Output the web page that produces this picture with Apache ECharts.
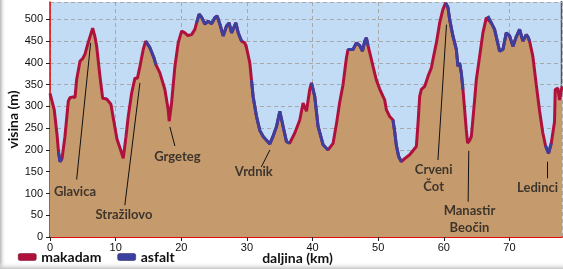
<!DOCTYPE html>
<html><head><meta charset="utf-8">
<script src="https://cdn.jsdelivr.net/npm/echarts@6/dist/echarts.min.js"></script>
<style>html,body{margin:0;padding:0;background:#fff}#c{width:563px;height:269px}</style>
</head><body><div id="c"></div>
<script>
// distance along the route (km)
const distanceKm = [
  0,0.15,0.65,1.07,1.3,1.52,1.83,2.28,2.79,3.04,
  3.5,3.81,4.06,4.57,4.98,5.33,5.78,6.5,6.85,7.11,
  7.61,8.02,8.63,8.83,9.28,9.74,10.2,10.65,11.16,11.57,
  11.92,12.44,12.94,13.32,13.7,14.2,14.57,15.22,15.83,16.13,
  16.74,17.5,18.01,18.16,18.52,19.03,19.53,20.05,20.55,21.0,
  21.57,22.07,22.33,22.72,23.09,23.59,24.09,24.61,25.11,25.46,
  25.88,26.38,26.89,27.29,27.66,27.9,28.31,28.66,29.18,29.68,
  29.94,30.44,30.7,30.94,31.46,31.96,32.47,32.88,33.49,33.94,
  34.51,35.01,35.51,36.03,36.53,37.29,38.05,38.55,39.07,39.57,
  39.83,40.33,40.84,41.6,42.36,43.12,43.64,44.14,44.64,45.16,
  45.4,46.16,46.68,47.18,47.6,47.95,48.2,48.45,48.96,49.21,
  49.73,50.23,50.73,50.99,51.25,51.75,52.25,52.51,52.77,53.12,
  53.53,54.03,54.79,55.81,56.06,56.32,56.58,57.08,57.58,58.1,
  58.34,58.86,59.36,59.86,60.27,60.62,60.88,61.38,61.9,62.15,
  62.4,62.66,62.91,63.17,63.42,63.62,63.93,64.19,64.69,64.95,
  65.45,65.95,66.47,66.71,67.23,67.73,68.49,69.0,69.51,70.02,
  70.52,71.03,71.54,72.04,72.56,72.8,73.06,73.56,74.08,74.58,
  75.08,75.49,75.95,76.36,76.86,76.97,77.37,77.63,78.0
];
// elevation (m)
const elevationM = [
  330,330,292,235,195,173,180,231,312,320,
  322,320,362,404,410,420,445,480,460,438,
  369,319,317,318,305,265,225,205,181,230,
  277,331,365,365,392,431,450,435,412,396,
  377,339,292,266,308,392,446,473,469,463,
  465,477,492,512,505,489,496,490,504,508,
  489,462,485,492,469,473,492,470,450,446,
  435,400,360,323,277,245,231,224,214,230,
  254,289,254,219,216,239,269,308,289,339,
  354,323,254,212,200,215,260,310,350,412,
  431,431,446,440,427,450,458,440,408,392,
  360,340,323,315,292,277,269,242,210,185,
  173,180,189,208,260,323,339,346,369,389,
  408,446,492,523,538,528,500,462,431,392,
  400,377,339,292,246,216,222,231,315,362,
  415,469,504,508,492,477,427,431,469,462,
  438,460,477,450,465,460,450,415,350,290,
  239,210,192,215,265,339,342,315,346
];
// stretches with asphalt surface [from km, to km]; rest is makadam
const asfaltRanges = [
  [1.3,1.83],[14.57,16.13],[22.33,29.18],[30.7,36.53],[39.83,42.36],
  [45.4,48.45],[52.25,53.53],[60.27,62.91],[66.71,73.06],[75.49,76.36]
];
const seriesNames = ['makadam','asfalt'];
const annotationNames = ['Glavica','Stražilovo','Grgeteg','Vrdnik','Crveni\nČot','Manastir\nBeočin','Ledinci'];
const annotationTextAt = [[3.8,103],[11.26,50],[19.4,184],[31.05,149],[58.45,136],[63.9,41],[74.28,112]];
const annotationPointerFrom = [[4.06,132],[11.4,73],[19.03,209],[32.2,161],[59.1,177],[63.7,81],[75.7,135]];
const annotationPointerTo = [[6.19,446],[13.7,354],[18.26,253],[33.5,200],[60.4,488],[63.8,198],[75.7,173]];

const RED = '#b0103c', BLUE = '#3b3f9e';
const profile = distanceKm.map((d,i)=>[d, elevationM[i]]);
const inAsfalt = d => asfaltRanges.some(r => d >= r[0]-1e-9 && d <= r[1]+1e-9);
const asfaltData = distanceKm.map((d,i)=>[d, inAsfalt(d) ? elevationM[i] : null]);

const chart = echarts.init(document.getElementById('c'), null, {renderer:'canvas'});
const tickFont = {fontFamily:'Liberation Sans, Arial, sans-serif', fontSize:11, color:'#111'};
const boldFont = {fontFamily:'Lato, sans-serif', fontWeight:'bold', fontSize:14, color:'#111'};
chart.setOption({
  animation:false,
  backgroundColor:'#ffffff',
  grid:{left:50,right:1,top:2,bottom:32,show:true,backgroundColor:'#c2dcf5',borderWidth:0,
        outerBoundsMode:'none', containLabel:false},
  legend:{
    data:[{name:seriesNames[0],itemStyle:{color:RED,borderColor:'#6b0a24',borderWidth:0.5}},
          {name:seriesNames[1],itemStyle:{color:BLUE,borderColor:'#1e2160',borderWidth:0.5}}],
    left:18, top:250, padding:0, icon:'roundRect', itemWidth:18, itemHeight:7, itemGap:16,
    textStyle:boldFont
  },
  xAxis:[{
    type:'value', min:0, max:78, interval:10,
    name:'daljina (km)', nameLocation:'middle', nameGap:14, nameMoveOverlap:false,
    nameTextStyle:Object.assign({}, boldFont, {padding:[0,17,0,0]}),
    axisLine:{show:true,onZero:false,lineStyle:{color:'#e00000',width:1.5}},
    axisTick:{show:true,length:4,lineStyle:{color:'#222'}},
    axisLabel:Object.assign({margin:5,showMaxLabel:false}, tickFont),
    splitLine:{show:true,lineStyle:{color:'#a9a9a9',type:[4,3],width:1}}
  },{
    type:'value', min:0, max:78, position:'top',
    axisLine:{show:true,lineStyle:{color:'#e00000',width:1.5}},
    axisTick:{show:false}, axisLabel:{show:false}, splitLine:{show:false}
  }],
  yAxis:{
    type:'value', min:0, max:540, interval:50,
    name:'visina (m)', nameLocation:'middle', nameGap:30, nameMoveOverlap:false,
    nameTextStyle:boldFont,
    axisLine:{show:true,onZero:false,lineStyle:{color:'#e00000',width:1.5}},
    axisTick:{show:true,length:4,lineStyle:{color:'#222'}},
    axisLabel:Object.assign({margin:7,showMaxLabel:false}, tickFont),
    splitLine:{show:true,lineStyle:{color:'#a9a9a9',type:[4,3],width:1}}
  },
  series:[{
    name:seriesNames[0], type:'line', data:profile, symbol:'none',
    lineStyle:{color:RED,width:3}, itemStyle:{color:RED},
    areaStyle:{color:'#c59a6d',opacity:1,origin:'start'}, z:2
  },{
    name:seriesNames[1], type:'line', data:asfaltData, symbol:'none', connectNulls:false,
    lineStyle:{color:BLUE,width:3}, itemStyle:{color:BLUE}, z:3
  },{
    name:'oznake', type:'scatter', symbolSize:0, z:5, silent:true,
    data:annotationNames.map((n,i)=>({name:n, value:annotationTextAt[i]})),
    label:{show:true, position:'inside', formatter:'{b}', fontFamily:'Lato, sans-serif',
      fontWeight:'bold', fontSize:13, lineHeight:17, color:'#1a1a1a', align:'center'},
    markLine:{silent:true, symbol:['none','none'], label:{show:false},
      lineStyle:{color:'#111',width:1,type:'solid'},
      data:annotationNames.map((n,i)=>[{coord:annotationPointerFrom[i]},{coord:annotationPointerTo[i]}])}
  }],
  graphic:[
    {type:'rect', shape:{x:0,y:0,width:6,height:269}, silent:true,
     style:{fill:new echarts.graphic.LinearGradient(0,0,1,0,[{offset:0,color:'#b5b5b5'},{offset:1,color:'rgba(255,255,255,0)'}])}},
    {type:'rect', shape:{x:0,y:262,width:563,height:7}, silent:true,
     style:{fill:new echarts.graphic.LinearGradient(0,0,0,1,[{offset:0,color:'rgba(255,255,255,0)'},{offset:1,color:'#c4c4c4'}])}},
    {type:'line', shape:{x1:561.5,y1:1,x2:561.5,y2:236}, silent:true, style:{stroke:'#555',lineWidth:1.5}}
  ]
});
</script></body></html>
